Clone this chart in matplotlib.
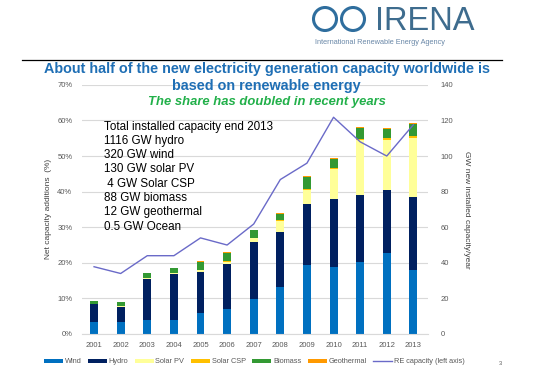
import numpy as np
import matplotlib
matplotlib.use("Agg")
import matplotlib.pyplot as plt
from matplotlib.patches import Ellipse
from matplotlib.lines import Line2D

plt.rcParams['font.family'] = ['Liberation Sans', 'DejaVu Sans']

years = ['2001', '2002', '2003', '2004', '2005', '2006', '2007',
         '2008', '2009', '2010', '2011', '2012', '2013']

# GW new installed capacity per year
wind = [7.0, 6.6, 7.9, 7.9, 11.7, 14.1, 19.8, 26.2, 38.6, 37.4, 40.5, 45.6, 36.1]
hydro = [9.6, 8.6, 23.1, 25.6, 22.9, 25.0, 31.8, 31.2, 34.6, 38.3, 37.8, 35.1, 40.9]
solar_pv = [0.3, 0.5, 0.6, 1.0, 1.4, 1.6, 2.2, 6.2, 7.9, 16.9, 30.5, 28.1, 33.4]
solar_csp = [0.0, 0.0, 0.0, 0.0, 0.0, 0.1, 0.1, 0.2, 0.6, 0.8, 1.0, 1.2, 1.1]
biomass = [1.6, 2.0, 2.5, 2.4, 4.4, 4.8, 4.5, 3.6, 6.5, 5.0, 6.0, 5.3, 6.4]
geothermal = [0.3, 0.4, 0.3, 0.3, 0.4, 0.4, 0.3, 0.4, 0.4, 0.4, 0.5, 0.5, 0.5]

# share of net capacity additions (%)
re_share = [18.9, 17.0, 22.0, 22.0, 27.0, 25.0, 30.9, 43.4, 48.0, 60.9, 54.0, 50.0, 58.8]

series = [("Wind", wind, "#0070C0"),
          ("Hydro", hydro, "#002060"),
          ("Solar PV", solar_pv, "#FFFF99"),
          ("Solar CSP", solar_csp, "#FFC000"),
          ("Biomass", biomass, "#339933"),
          ("Geothermal", geothermal, "#FF9900")]

info_lines = ["Total installed capacity end 2013", "1116 GW hydro", "320 GW wind",
              "130 GW solar PV", " 4 GW Solar CSP", "88 GW biomass",
              "12 GW geothermal", "0.5 GW Ocean"]

fig = plt.figure(figsize=(5.33, 3.68), dpi=100)
ax = fig.add_axes([0.154, 0.0924, 0.649, 0.677])

x = np.arange(len(years))
bottom = np.zeros(len(years))
handles = []
for name, vals, col in series:
    b = ax.bar(x, vals, 0.3, bottom=bottom, color=col, label=name, zorder=2)
    bottom += np.array(vals)
    handles.append(b)

ax2 = ax.twinx()

# bars axis (GW) on the right
ax.set_ylim(0, 140)
ax.set_yticks(np.arange(0, 141, 20))
ax.yaxis.tick_right()
ax.yaxis.set_label_position("right")
ax.set_xlim(-0.45, 12.55)
ax.set_xticks(x)
ax.set_xticklabels(years)
ax.grid(axis='y', color='#d9d9d9', linewidth=0.8, zorder=0)
ax.set_axisbelow(True)
for s in ax.spines.values():
    s.set_visible(False)
ax.spines['bottom'].set_visible(True)
ax.spines['bottom'].set_color('#d9d9d9')
ax.tick_params(length=0, labelsize=5.5, labelcolor='#595959', pad=6)
ax.tick_params(axis='y', pad=9)
ax.set_ylabel("GW new installed capacity/year", fontsize=6, color='#404040',
              rotation=270, labelpad=12)

# line axis (%) on the left
ax2.yaxis.tick_left()
ax2.yaxis.set_label_position("left")
ln, = ax2.plot(x, re_share, color='#6a6ac8', linewidth=1, label="RE capacity (left axis)")
ax2.set_ylim(0, 70)
ax2.set_yticks(np.arange(0, 71, 10))
ax2.set_yticklabels([f"{v}%" for v in range(0, 71, 10)])
for s in ax2.spines.values():
    s.set_visible(False)
ax2.tick_params(length=0, labelsize=5.5, labelcolor='#595959', pad=7)
ax2.set_ylabel("Net capacity additions  (%)", fontsize=6, color='#404040', labelpad=4)

for i, t in enumerate(info_lines):
    ax2.text(0.064, 0.8325 - i * 0.0574, t, transform=ax.transAxes, fontsize=8.4,
             color='black', va='center', ha='left')

fig.legend(handles + [ln], [s[0] for s in series] + ["RE capacity (left axis)"],
           loc='center', bbox_to_anchor=(0.477, 0.017), ncol=7, frameon=False,
           fontsize=5.3, handlelength=2.6, handleheight=0.5, columnspacing=0.9,
           handletextpad=0.2, labelcolor='#595959')

# header
fig.text(0.5, 1 - 69 / 368, "About half of the new electricity generation capacity worldwide is",
         ha='center', va='center', fontsize=10.4, fontweight='bold', color='#1F6FB5')
fig.text(0.5, 1 - 86 / 368, "based on renewable energy",
         ha='center', va='center', fontsize=10.4, fontweight='bold', color='#1F6FB5')
fig.text(0.5, 1 - 102 / 368, "The share has doubled in recent years",
         ha='center', va='center', fontsize=9.4, fontweight='bold', style='italic',
         color='#22B04A')
fig.add_artist(Line2D([22 / 533, 502 / 533], [1 - 60 / 368, 1 - 60 / 368],
                      color='black', linewidth=0.9))

# logo
for cx in (325, 353):
    fig.add_artist(Ellipse((cx / 533, 1 - 19 / 368), 23 / 533, 23 / 368,
                           facecolor='none', edgecolor='#2F6E9E', linewidth=2.2))
fig.text(375 / 533, 1 - 30 / 368, "IRENA", ha='left', va='baseline', fontsize=23.5,
         color='#3E6C8E')
fig.text(315 / 533, 1 - 42 / 368, "International Renewable Energy Agency", ha='left',
         va='center', fontsize=5.3, color='#6a88a8')
fig.text(500 / 533, 1 - 365 / 368, "3", fontsize=4, color='#595959', ha='center')

fig.savefig("out.png", dpi=100)
